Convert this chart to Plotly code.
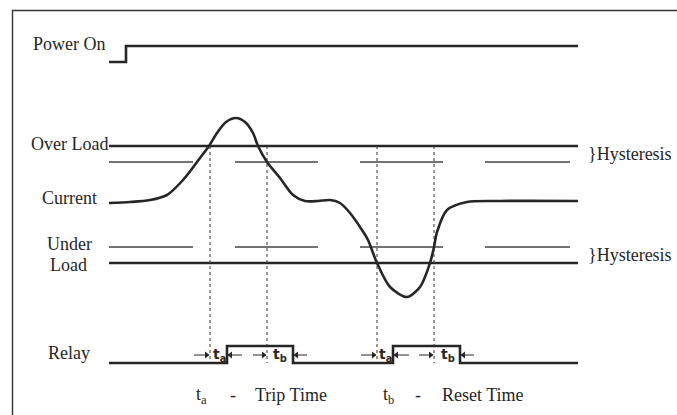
import plotly.graph_objects as go

# ---- data (diagram coordinates: time along x, signal level along y) ----
power_x = [109, 126, 126, 578]
power_level = [62, 62, 46, 46]

over_load_level = 146
over_hyst_level = 162
under_hyst_level = 247
under_load_level = 263
level_start, level_end = 109, 578

hyst_starts = [109, 235, 360, 485]
hyst_ends = [193, 318, 443, 570]

current_x = [109, 130, 150, 167, 183, 200, 209, 217, 226, 236, 245, 253, 258, 267,
             280, 293, 305, 318, 330, 340, 350, 362, 368, 377, 390, 407, 420, 430,
             434, 437, 447, 467, 500, 578]
current_y = [203, 202, 200, 195, 180, 158, 146, 133, 122, 118, 122, 133, 146, 162,
             178, 195, 201, 201, 200, 203, 213, 230, 240, 263, 287, 297, 287, 263,
             247, 232, 210, 202, 201, 201]

relay_x = [109, 227, 227, 293, 293, 393, 393, 460, 460, 578]
relay_level = [363, 363, 346, 346, 363, 363, 346, 346, 363, 363]

event_times = [210, 267, 377, 434]   # dotted marker lines
event_top, event_bottom = 146, 363

row_labels = ["Power On", "Over Load", "Current", "Under", "Load", "Relay"]
row_label_x = [69, 69, 69, 69, 68, 69]
row_label_y = [44, 144, 198, 244, 265, 353]

# timing arrows: (tip, tail) along the relay row
arrow_tips = [209, 228, 266, 294, 376, 394, 433, 461]
arrow_tails = [194, 242, 253, 307, 361, 409, 419, 474]
arrow_y = 355

INK = "#262626"
SERIF = "Liberation Serif"

fig = go.Figure()

def line(xs, ys, width=2.6, color=INK, dash="solid", shape="linear"):
    fig.add_trace(go.Scatter(x=xs, y=ys, mode="lines", hoverinfo="skip",
                             line=dict(color=color, width=width, dash=dash, shape=shape)))

# frame
line([12.5, 12.5, 677], [415, 10.5, 10.5], width=1.4, color="#333333")

# power on
line(power_x, power_level)

# load thresholds
line([level_start, level_end], [over_load_level] * 2)
line([level_start, level_end], [under_load_level] * 2)
for s, e in zip(hyst_starts, hyst_ends):
    line([s, e], [over_hyst_level] * 2, width=1.3, color="#444444")
    line([s, e], [under_hyst_level] * 2, width=1.3, color="#444444")

# event dotted lines
for t in event_times:
    line([t, t], [event_top, event_bottom], width=1, color="#333333", dash="dot")

# current
fig.add_trace(go.Scatter(x=current_x, y=current_y, mode="lines", hoverinfo="skip",
                         line=dict(color=INK, width=2.6, shape="spline", smoothing=0.8)))

# relay
line(relay_x, relay_level)

# timing arrows
for tip, tail in zip(arrow_tips, arrow_tails):
    line([tail, tip], [arrow_y, arrow_y], width=1, color=INK)
    sym = "triangle-right" if tip > tail else "triangle-left"
    fig.add_trace(go.Scatter(x=[tip - (2.5 if tip > tail else -2.5)], y=[arrow_y],
                             mode="markers", hoverinfo="skip",
                             marker=dict(symbol=sym, size=6, color=INK, line=dict(width=0))))

# labels
for txt, x, y in zip(row_labels, row_label_x, row_label_y):
    fig.add_annotation(x=x, y=y, text=txt, showarrow=False, xanchor="center", yanchor="middle",
                       font=dict(family=SERIF, size=18, color=INK))
for y in [154, 255]:
    fig.add_annotation(x=586, y=y, text="}Hysteresis", showarrow=False, xanchor="left",
                       yanchor="middle", font=dict(family=SERIF, size=18, color=INK))

# bottom legend text
bottom = [("t<sub>a</sub>", 201), ("-", 233), ("Trip Time", 291),
          ("t<sub>b</sub>", 388), ("-", 418), ("Reset Time", 483)]
for txt, x in bottom:
    fig.add_annotation(x=x, y=395, text=txt, showarrow=False, xanchor="center", yanchor="middle",
                       font=dict(family=SERIF, size=18, color=INK))

small = [("t<sub>a</sub>", 219), ("t<sub>b</sub>", 280), ("t<sub>a</sub>", 385), ("t<sub>b</sub>", 448)]
for txt, x in small:
    fig.add_annotation(x=x, y=355, text="<b>" + txt + "</b>", showarrow=False,
                       xanchor="center", yanchor="middle",
                       font=dict(family="DejaVu Sans", size=14, color=INK))

fig.update_layout(width=677, height=415, margin=dict(l=0, r=0, t=0, b=0),
                  paper_bgcolor="white", plot_bgcolor="white", showlegend=False,
                  xaxis=dict(range=[0, 677], visible=False, fixedrange=True),
                  yaxis=dict(range=[415, 0], visible=False, fixedrange=True))
fig.write_html("out.html", config={"displayModeBar": False},
               post_script="document.body.style.margin='0';document.body.style.overflow='hidden';")
